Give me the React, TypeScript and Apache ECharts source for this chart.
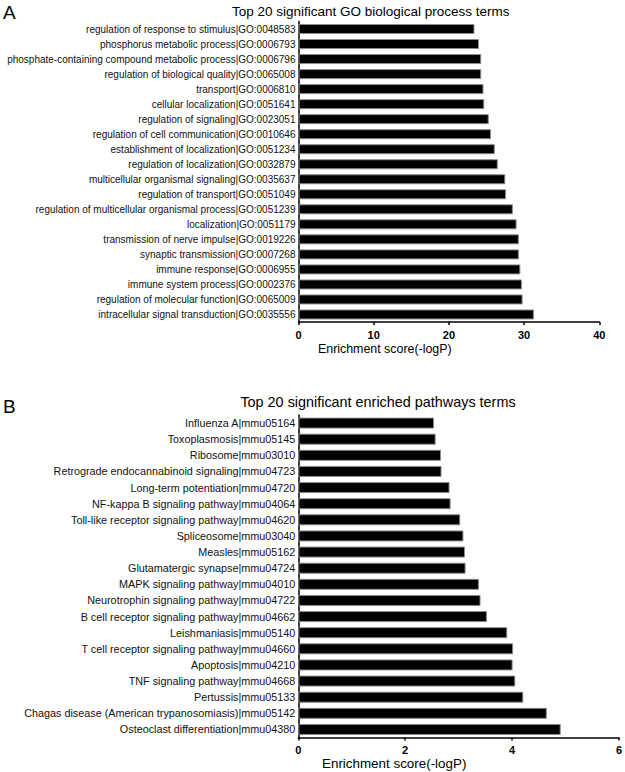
import React, { useEffect, useRef } from "react";
import * as echarts from "echarts";

const goTerms = [
  "regulation of response to stimulus|GO:0048583",
  "phosphorus metabolic process|GO:0006793",
  "phosphate-containing compound metabolic process|GO:0006796",
  "regulation of biological quality|GO:0065008",
  "transport|GO:0006810",
  "cellular localization|GO:0051641",
  "regulation of signaling|GO:0023051",
  "regulation of cell communication|GO:0010646",
  "establishment of localization|GO:0051234",
  "regulation of localization|GO:0032879",
  "multicellular organismal signaling|GO:0035637",
  "regulation of transport|GO:0051049",
  "regulation of multicellular organismal process|GO:0051239",
  "localization|GO:0051179",
  "transmission of nerve impulse|GO:0019226",
  "synaptic transmission|GO:0007268",
  "immune response|GO:0006955",
  "immune system process|GO:0002376",
  "regulation of molecular function|GO:0065009",
  "intracellular signal transduction|GO:0035556",
];
const goScores = [
  23.4, 24.0, 24.3, 24.3, 24.6, 24.7, 25.3, 25.6, 26.1, 26.5,
  27.5, 27.6, 28.5, 29.0, 29.3, 29.3, 29.5, 29.7, 29.8, 31.3,
];

const pathwayTerms = [
  "Influenza A|mmu05164",
  "Toxoplasmosis|mmu05145",
  "Ribosome|mmu03010",
  "Retrograde endocannabinoid signaling|mmu04723",
  "Long-term potentiation|mmu04720",
  "NF-kappa B signaling pathway|mmu04064",
  "Toll-like receptor signaling pathway|mmu04620",
  "Spliceosome|mmu03040",
  "Measles|mmu05162",
  "Glutamatergic synapse|mmu04724",
  "MAPK signaling pathway|mmu04010",
  "Neurotrophin signaling pathway|mmu04722",
  "B cell receptor signaling pathway|mmu04662",
  "Leishmaniasis|mmu05140",
  "T cell receptor signaling pathway|mmu04660",
  "Apoptosis|mmu04210",
  "TNF signaling pathway|mmu04668",
  "Pertussis|mmu05133",
  "Chagas disease (American trypanosomiasis)|mmu05142",
  "Osteoclast differentiation|mmu04380",
];
const pathwayScores = [
  2.54, 2.57, 2.67, 2.68, 2.83, 2.85, 3.03, 3.09, 3.12, 3.13,
  3.38, 3.41, 3.53, 3.91, 4.02, 4.01, 4.06, 4.21, 4.65, 4.91,
];

const goTicks = { max: 40, interval: 10 };
const pathwayTicks = { max: 6, interval: 2 };

const FONT = "'Liberation Sans', Arial, sans-serif";

export default function App() {
  const ref = useRef<HTMLDivElement>(null);

  useEffect(() => {
    document.body.style.margin = "0";
    if (!ref.current) return;
    const chart = echarts.init(ref.current, undefined, { renderer: "svg" });

    const axisLine = { show: true, lineStyle: { color: "#000", width: 1.5 } };

    const valueAxis = (gridIndex: number, t: { max: number; interval: number }) => ({
      type: "value" as const,
      gridIndex,
      min: 0,
      max: t.max,
      interval: t.interval,
      axisLine,
      axisTick: { show: true, length: 3, lineStyle: { color: "#000", width: 1.5 } },
      axisLabel: {
        margin: 7,
        color: "#000",
        fontFamily: FONT,
        fontSize: 11,
        fontWeight: "bold" as const,
      },
      splitLine: { show: false },
    });

    const catAxis = (gridIndex: number, data: string[], fontSize: number) => ({
      type: "category" as const,
      gridIndex,
      data,
      inverse: true,
      axisLine,
      axisTick: { show: false },
      axisLabel: {
        margin: 3,
        color: "#111",
        fontFamily: FONT,
        fontSize,
        interval: 0,
      },
    });

    const text = (
      str: string,
      x: number,
      y: number,
      fontSize: number,
      align: string,
      weight: string = "normal"
    ) => ({
      type: "text",
      x,
      y,
      style: {
        text: str,
        fontFamily: FONT,
        fontSize,
        fontWeight: weight,
        fill: "#000",
        textAlign: align,
        textVerticalAlign: "middle",
      },
    });

    chart.setOption({
      animation: false,
      backgroundColor: "#fff",
      grid: [
        { left: 298.5, top: 21.5, width: 300.8, height: 300.5, containLabel: false },
        { left: 298.3, top: 415, width: 321.2, height: 322.5, containLabel: false },
      ],
      xAxis: [valueAxis(0, goTicks), valueAxis(1, pathwayTicks)],
      yAxis: [catAxis(0, goTerms, 10), catAxis(1, pathwayTerms, 10.8)],
      series: [
        {
          type: "bar",
          xAxisIndex: 0,
          yAxisIndex: 0,
          data: goScores,
          barWidth: 10,
          itemStyle: { color: "#000", borderColor: "#8a8a8a", borderWidth: 1 },
        },
        {
          type: "bar",
          xAxisIndex: 1,
          yAxisIndex: 1,
          data: pathwayScores,
          barWidth: 11,
          itemStyle: { color: "#000", borderColor: "#8a8a8a", borderWidth: 1 },
        },
      ],
      graphic: [
        text("A", 3, 12, 19, "left"),
        text("Top 20 significant GO biological process terms", 370.7, 11.5, 13.5, "center"),
        text("Enrichment score(-logP)", 318, 348.5, 12.4, "left"),
        text("B", 3, 406, 19, "left"),
        text("Top 20 significant enriched pathways terms", 378, 401.7, 14.4, "center"),
        text("Enrichment score(-logP)", 322, 763, 13.4, "left"),
      ],
    });

    return () => chart.dispose();
  }, []);

  return <div ref={ref} style={{ width: 625, height: 772 }} />;
}
